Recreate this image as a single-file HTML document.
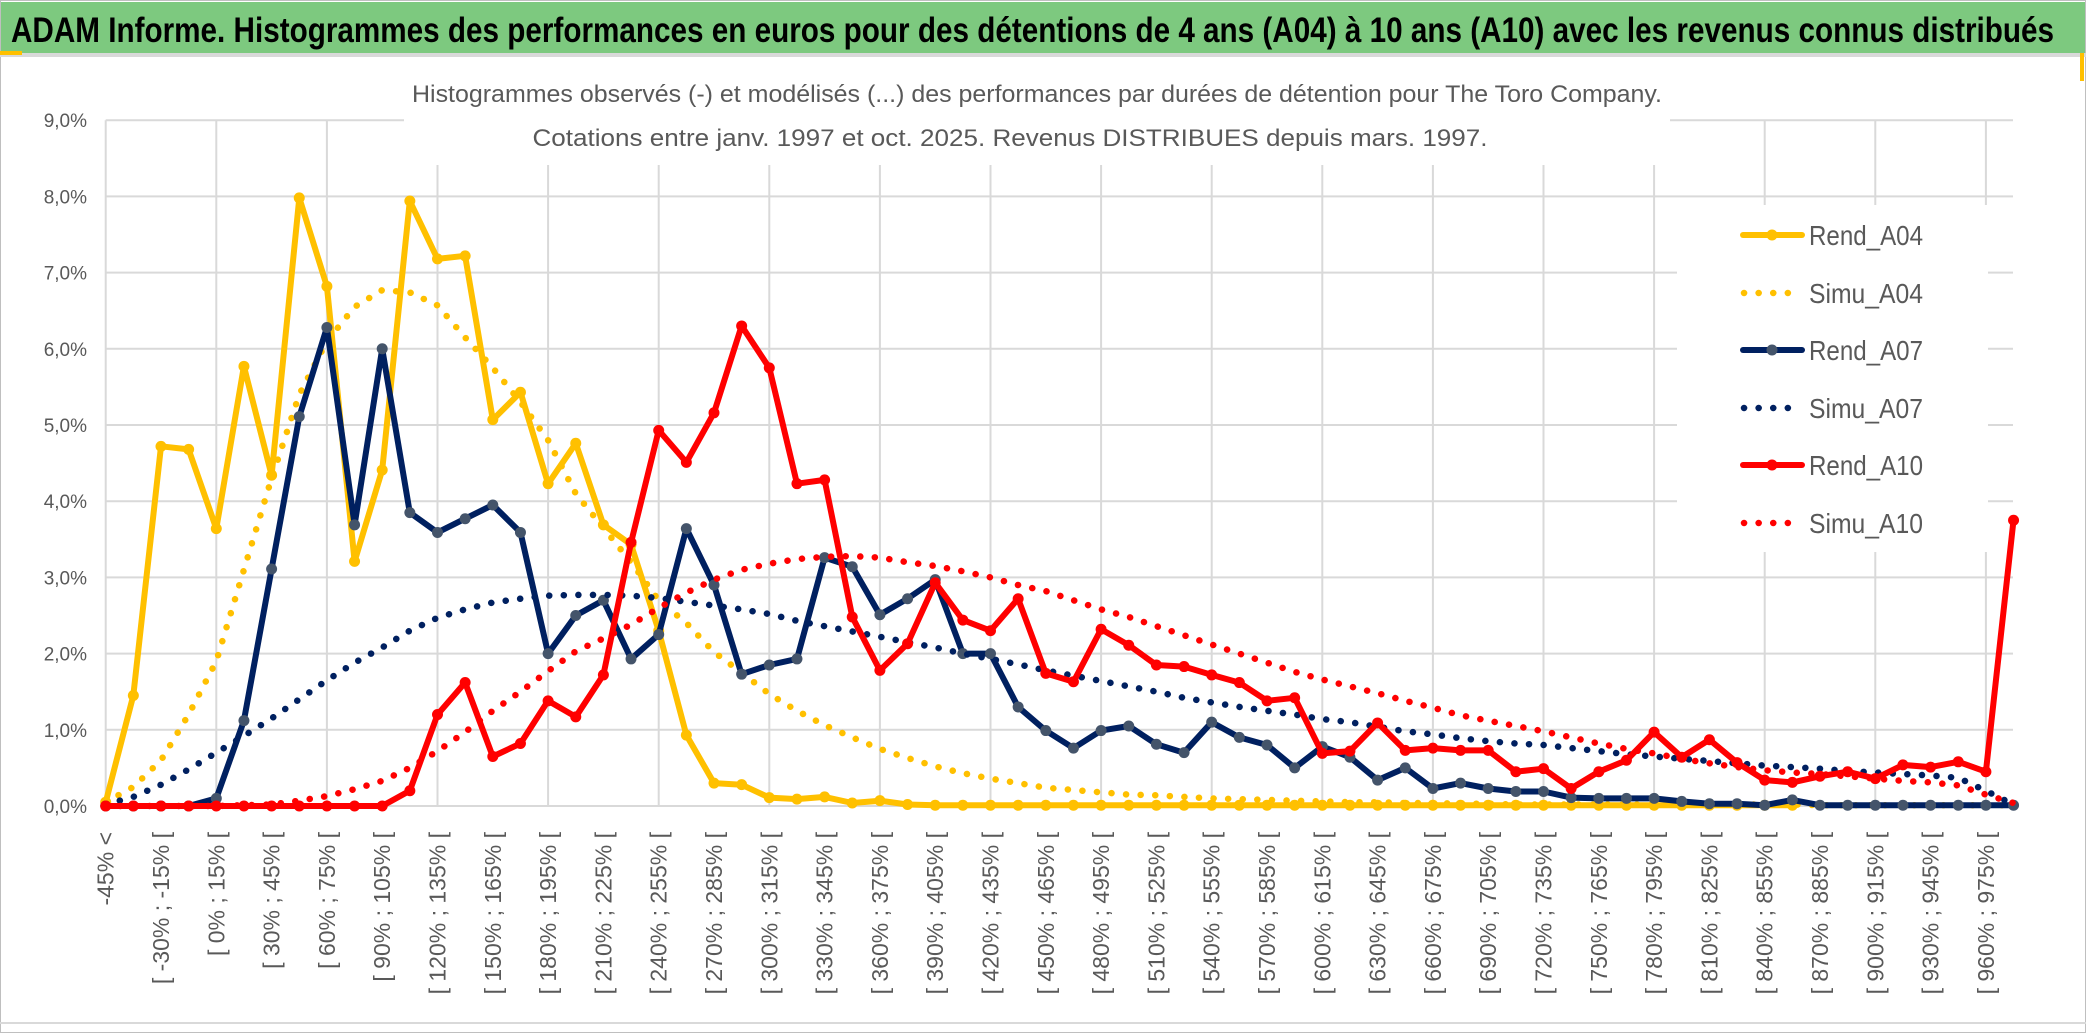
<!DOCTYPE html>
<html><head><meta charset="utf-8"><style>
html,body{margin:0;padding:0;background:#fff;}
svg{display:block;font-family:"Liberation Sans",sans-serif;}
</style></head><body>
<svg id="chart" width="2086" height="1033" viewBox="0 0 2086 1033" xmlns="http://www.w3.org/2000/svg">
<rect x="0" y="0" width="2086" height="1033" fill="#fff"/>
<rect x="0.5" y="0.5" width="2085" height="1032" fill="none" stroke="#bfbfbf" stroke-width="1"/>
<rect x="1" y="2" width="2084" height="51" fill="#7dc97f"/>
<rect x="0" y="53" width="2086" height="4" fill="#d9d9d9"/>
<rect x="0" y="51" width="22" height="4" fill="#ffc000"/>
<rect x="2080" y="53" width="4" height="28" fill="#ffc000"/>
<text x="11" y="42" font-size="35" font-weight="bold" fill="#000" textLength="2043" lengthAdjust="spacingAndGlyphs">ADAM Informe. Histogrammes des performances en euros pour des détentions de 4 ans (A04) à 10 ans (A10) avec les revenus connus distribués</text>
<line x1="0" y1="1023" x2="2086" y2="1023" stroke="#d9d9d9" stroke-width="2"/>
<g id="grid"></g>
<rect x="404" y="72" width="1266" height="93" fill="#fff"/>
<text x="1037" y="102" font-size="24" fill="#595959" text-anchor="middle" textLength="1250" lengthAdjust="spacingAndGlyphs">Histogrammes observés (-) et modélisés (...) des performances par durées de détention pour The Toro Company.</text>
<text x="1010" y="146" font-size="24" fill="#595959" text-anchor="middle" textLength="955" lengthAdjust="spacingAndGlyphs">Cotations entre janv. 1997 et oct. 2025. Revenus DISTRIBUES depuis mars. 1997.</text>
<g id="yaxis"></g>
<g id="xaxis"></g>
<g id="series"></g>
<g id="legend"></g>
</svg>
<script>
const categories = ["-45% <","[ -45% ; -30% [","[ -30% ; -15% [","[ -15% ; 0% [","[ 0% ; 15% [","[ 15% ; 30% [","[ 30% ; 45% [","[ 45% ; 60% [","[ 60% ; 75% [","[ 75% ; 90% [",
"[ 90% ; 105% [","[ 105% ; 120% [","[ 120% ; 135% [","[ 135% ; 150% [","[ 150% ; 165% [","[ 165% ; 180% [","[ 180% ; 195% [","[ 195% ; 210% [","[ 210% ; 225% [","[ 225% ; 240% [",
"[ 240% ; 255% [","[ 255% ; 270% [","[ 270% ; 285% [","[ 285% ; 300% [","[ 300% ; 315% [","[ 315% ; 330% [","[ 330% ; 345% [","[ 345% ; 360% [","[ 360% ; 375% [","[ 375% ; 390% [",
"[ 390% ; 405% [","[ 405% ; 420% [","[ 420% ; 435% [","[ 435% ; 450% [","[ 450% ; 465% [","[ 465% ; 480% [","[ 480% ; 495% [","[ 495% ; 510% [","[ 510% ; 525% [","[ 525% ; 540% [",
"[ 540% ; 555% [","[ 555% ; 570% [","[ 570% ; 585% [","[ 585% ; 600% [","[ 600% ; 615% [","[ 615% ; 630% [","[ 630% ; 645% [","[ 645% ; 660% [","[ 660% ; 675% [","[ 675% ; 690% [",
"[ 690% ; 705% [","[ 705% ; 720% [","[ 720% ; 735% [","[ 735% ; 750% [","[ 750% ; 765% [","[ 765% ; 780% [","[ 780% ; 795% [","[ 795% ; 810% [","[ 810% ; 825% [","[ 825% ; 840% [",
"[ 840% ; 855% [","[ 855% ; 870% [","[ 870% ; 885% [","[ 885% ; 900% [","[ 900% ; 915% [","[ 915% ; 930% [","[ 930% ; 945% [","[ 945% ; 960% [","[ 960% ; 975% [","[ 975% ; 990% ["];
const yTicks = [0,1,2,3,4,5,6,7,8,9];
const yTickLabels = ["0,0%","1,0%","2,0%","3,0%","4,0%","5,0%","6,0%","7,0%","8,0%","9,0%"];
const rendA04 = [0.05,1.45,4.72,4.68,3.64,5.77,4.34,7.98,6.82,3.21,
4.41,7.94,7.18,7.22,5.07,5.43,4.23,4.76,3.69,3.43,
2.3,0.93,0.3,0.28,0.11,0.09,0.12,0.04,0.07,0.02,
0.01,0.01,0.01,0.01,0.01,0.01,0.01,0.01,0.01,0.01,
0.01,0.01,0.01,0.01,0.01,0.01,0.01,0.01,0.01,0.01,
0.01,0.01,0.01,0.01,0.01,0.01,0.01,0.01,0.01,0.01,
0.01,0.01,null,null,null,null,null,null,null,null];
const simuA04 = [0.05,0.25,0.6,1.2,1.9,3.1,4.3,5.4,6.1,6.55,
6.77,6.74,6.57,6.15,5.75,5.3,4.8,4.1,3.65,3.2,
2.7,2.4,2.02,1.75,1.47,1.25,1.06,0.9,0.75,0.63,
0.52,0.43,0.36,0.3,0.24,0.21,0.18,0.15,0.14,0.12,
0.1,0.09,0.08,0.07,0.06,0.05,0.05,0.04,0.04,0.03,
0.03,0.02,0.02,0.02,0.02,0.02,0.02,0.02,0.02,0.02,
0.02,0.02,0.01,0.01,0.01,0.01,0.01,0.01,0.01,0.01];
const rendA07 = [0,0,0,0,0.1,1.12,3.11,5.11,6.28,3.69,
6.0,3.85,3.59,3.77,3.95,3.59,2.0,2.5,2.7,1.93,
2.25,3.64,2.9,1.73,1.85,1.93,3.26,3.14,2.51,2.72,
2.97,2.0,2.0,1.3,0.99,0.76,0.99,1.05,0.81,0.7,
1.1,0.9,0.8,0.5,0.78,0.64,0.34,0.5,0.23,0.3,
0.23,0.19,0.19,0.11,0.1,0.1,0.1,0.06,0.03,0.03,
0.01,0.08,0.01,0.01,0.01,0.01,0.01,0.01,0.01,0.01];
const simuA07 = [0.02,0.12,0.28,0.48,0.7,0.92,1.15,1.4,1.65,1.88,
2.08,2.3,2.47,2.58,2.67,2.72,2.76,2.77,2.77,2.76,
2.73,2.68,2.63,2.58,2.52,2.43,2.36,2.29,2.22,2.15,
2.08,2.0,1.93,1.86,1.78,1.71,1.64,1.57,1.5,1.42,
1.36,1.3,1.25,1.2,1.14,1.1,1.04,0.98,0.94,0.89,
0.85,0.82,0.8,0.76,0.72,0.68,0.65,0.62,0.59,0.56,
0.53,0.51,0.49,0.46,0.44,0.42,0.4,0.37,0.2,0.02];
const rendA10 = [0,0,0,0,0,0,0,0,0,0,
0,0.2,1.2,1.62,0.65,0.82,1.38,1.17,1.72,3.46,
4.93,4.51,5.16,6.3,5.75,4.23,4.28,2.48,1.78,2.13,
2.93,2.44,2.3,2.72,1.74,1.63,2.32,2.11,1.85,1.83,
1.72,1.62,1.38,1.42,0.69,0.72,1.09,0.73,0.76,0.73,
0.73,0.45,0.49,0.23,0.45,0.6,0.97,0.64,0.87,0.57,
0.34,0.31,0.39,0.45,0.36,0.54,0.51,0.58,0.45,3.75];
const simuA10 = [0,0,0,0,0,0.01,0.02,0.07,0.13,0.22,
0.33,0.5,0.72,0.97,1.25,1.5,1.77,2.03,2.2,2.38,
2.6,2.8,2.97,3.1,3.18,3.24,3.27,3.28,3.26,3.2,
3.15,3.08,3.0,2.9,2.82,2.7,2.58,2.48,2.36,2.24,
2.12,2.0,1.88,1.76,1.66,1.57,1.48,1.38,1.29,1.19,
1.12,1.05,0.98,0.9,0.82,0.75,0.69,0.62,0.56,0.51,
0.47,0.44,0.42,0.39,0.36,0.33,0.31,0.27,0.15,0.04];
const seriesNames = ["Rend_A04","Simu_A04","Rend_A07","Simu_A07","Rend_A10","Simu_A10"];

const NS = "http://www.w3.org/2000/svg";
const X0 = 105.7, DX = 27.65, Y0 = 806, DY = 76.2, XR = 2013;
function xScale(i){ return X0 + i*DX; }
function yScale(v){ return Y0 - v*DY; }
function mk(tag, attrs, parent){ const e=document.createElementNS(NS,tag); for(const k in attrs) e.setAttribute(k,attrs[k]); parent.appendChild(e); return e; }

const grid = document.getElementById('grid');
for (let k=0; k<yTicks.length; k++){
  const y = yScale(yTicks[k]);
  const l = mk('line',{x1:X0,x2:XR,y1:y,y2:y,stroke:'#d9d9d9','stroke-width':2},grid);
  
  
}
for (let i=0; i<categories.length; i+=4){
  const x = xScale(i);
  const l = mk('line',{x1:x,x2:x,y1:yScale(9),y2:Y0,stroke:'#d9d9d9','stroke-width':2},grid);
  
  
}

const yaxis = document.getElementById('yaxis');
for (let k=0; k<yTicks.length; k++){
  const t = mk('text',{x:87,y:yScale(yTicks[k])+7,'font-size':19,fill:'#595959','text-anchor':'end'},yaxis);
  t.textContent = yTickLabels[k];
  
  
}
const xaxis = document.getElementById('xaxis');
for (let i=0; i<categories.length; i+=2){
  const x = xScale(i);
  const t = mk('text',{x:0,y:0,'font-size':23,fill:'#595959','text-anchor':'end','dominant-baseline':'central',transform:'translate('+x+',832) rotate(-90)'},xaxis);
  t.textContent = categories[i];
  
  
}

const sg = document.getElementById('series');
function drawLine(vals, color, markerFill, name){
  const g = mk('g',{},sg);
  
  
  let pts=[];
  for(let i=0;i<vals.length;i++){ if(vals[i]!==null) pts.push(xScale(i).toFixed(1)+','+yScale(vals[i]).toFixed(1)); }
  const p = mk('polyline',{points:pts.join(' '),fill:'none',stroke:color,'stroke-width':6,'stroke-linejoin':'round','stroke-linecap':'round'},g);
  
  
  for(let i=0;i<vals.length;i++){ if(vals[i]===null) continue;
    const c = mk('circle',{cx:xScale(i),cy:yScale(vals[i]),r:5.5,fill:markerFill},g);
    
    
  }
}
function drawDots(vals, color, name){
  let pts=[];
  for(let i=0;i<vals.length;i++){ if(vals[i]!==null) pts.push(xScale(i).toFixed(1)+','+yScale(vals[i]).toFixed(1)); }
  const p = mk('polyline',{points:pts.join(' '),fill:'none',stroke:color,'stroke-width':6.5,'stroke-linecap':'round','stroke-dasharray':'0.1 14.5'},sg);
  
  
}
drawLine(rendA04,'#ffc000','#ffc000','series-rend-a04');
drawDots(simuA04,'#ffc000','series-simu-a04');
drawLine(rendA07,'#002060','#44546a','series-rend-a07');
drawDots(simuA07,'#002060','series-simu-a07');
drawLine(rendA10,'#ff0000','#ff0000','series-rend-a10');
drawDots(simuA10,'#ff0000','series-simu-a10');

const lg = document.getElementById('legend');
const lbg = mk('rect',{x:1677,y:205,width:311,height:347,fill:'#fff'},lg);


const legendColors = ['#ffc000','#ffc000','#002060','#002060','#ff0000','#ff0000'];
const legendMarkers = ['#ffc000',null,'#44546a',null,'#ff0000',null];
const legendRows = [235,293,350,408,465,523];
for(let k=0;k<seriesNames.length;k++){
  const y = legendRows[k];
  const g = mk('g',{},lg);
  
  
  if(legendMarkers[k]){
    mk('line',{x1:1743,x2:1802,y1:y,y2:y,stroke:legendColors[k],'stroke-width':6,'stroke-linecap':'round'},g);
    mk('circle',{cx:1772,cy:y,r:5.5,fill:legendMarkers[k]},g);
  } else {
    mk('line',{x1:1744,x2:(k===5?1798:1789),y1:y,y2:y,stroke:legendColors[k],'stroke-width':6.5,'stroke-linecap':'round','stroke-dasharray':'0.1 14.5'},g);
  }
  const t = mk('text',{x:1809,y:y+10,'font-size':28,fill:'#595959',textLength:114,lengthAdjust:'spacingAndGlyphs'},g);
  t.textContent = seriesNames[k];
}
</script>
</body></html>
